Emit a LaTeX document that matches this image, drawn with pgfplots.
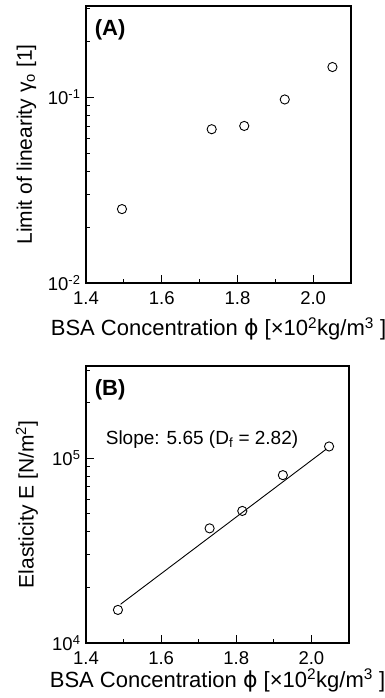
\documentclass[border=0pt]{standalone}
\usepackage{pgfplots}
\pgfplotsset{compat=1.18}
\usepackage{fontspec}
\setmainfont{Liberation Sans}
\newfontfamily\dejavu{DejaVu Sans}
\begin{document}
\begin{tikzpicture}
\useasboundingbox (0pt,0pt) rectangle (385pt,-698pt);
\pgfplotsset{
  myax/.style={
    scale only axis,
    width=265pt, height=277pt,
    anchor=north west,
    xmin=1.4, xmax=2.1,
    xtick={1.4,1.6,1.8,2.0},
    xticklabels={1.4,1.6,1.8,2.0},
    minor x tick num=1,
    tick align=inside,
    xtick pos=left, ytick pos=left,
    major tick length=8pt, minor tick length=4pt,
    axis line style={line width=1.3pt},
    every tick/.style={line width=0.8pt, black},
    x tick label style={font=\fontsize{18.5}{18.5}\selectfont, yshift=-5pt},
    y tick label style={font=\fontsize{18.5}{18.5}\selectfont, xshift=-2pt},
    xlabel style={font=\fontsize{22}{22}\selectfont},
    ylabel style={font=\fontsize{21}{21}\selectfont},
    xlabel={BSA Concentration {\dejavu ϕ} [×10\textsuperscript{2}kg/m\textsuperscript{3} ]},
    ylabel style={at={(axis description cs:-0.225,0.5)}, anchor=center},
    clip=false,
  }
}
\begin{axis}[myax, at={(86pt,-6pt)},
  ymode=log, ymin=0.01, ymax=0.31,
  ytick={0.01,0.1}, yticklabels={10\textsuperscript{-2},10\textsuperscript{-1}},
  minor ytick={0.02,0.03,0.04,0.05,0.06,0.07,0.08,0.09,0.2,0.3},
  xlabel style={at={(axis description cs:0.5,-0.165)}, anchor=center},
  ylabel={Limit of linearity γ\textsubscript{o} [1]},
]
\addplot[only marks, mark=o, mark size=4.6pt, mark options={line width=0.9pt}] coordinates {
 (1.495,0.0250) (1.732,0.0673) (1.818,0.0701) (1.925,0.0973) (2.051,0.1455)};
\node[anchor=west, font=\fontsize{22}{22}\selectfont\bfseries] at (axis description cs:0.02,0.915) {(A)};
\end{axis}
\begin{axis}[myax, at={(86pt,-366pt)}, width=263pt,
  ymode=log, ymin=1e4, ymax=3.15e5,
  ytick={1e4,1e5}, yticklabels={10\textsuperscript{4},10\textsuperscript{5}},
  minor ytick={20000,30000,40000,50000,60000,70000,80000,90000,200000,300000},
  xlabel style={at={(axis description cs:0.5,-0.135)}, anchor=center},
  ylabel={Elasticity E [N/m\textsuperscript{2}]},
]
\addplot[mark=none, line width=0.9pt] coordinates {(1.492,16200) (2.040,112000)};
\addplot[only marks, mark=o, mark size=4.6pt, mark options={line width=0.9pt, fill=white}] coordinates {
 (1.485,15100) (1.729,41700) (1.816,51800) (1.924,80900) (2.047,115600)};
\node[anchor=west, font=\fontsize{22}{22}\selectfont\bfseries] at (axis description cs:0.02,0.915) {(B)};
\node[anchor=west, font=\fontsize{19}{19}\selectfont] at (axis description cs:0.062,0.736) {Slope: 5.65 (D\textsubscript{f} = 2.82)};
\end{axis}
\end{tikzpicture}
\end{document}
